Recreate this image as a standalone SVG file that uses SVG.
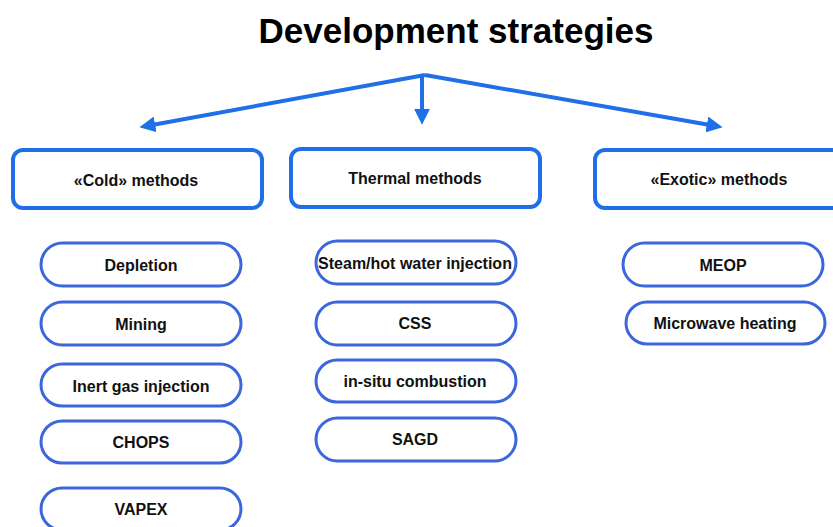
<svg xmlns="http://www.w3.org/2000/svg" width="833" height="527" viewBox="0 0 833 527">
  <style>
    .title { font-family: "Liberation Sans", Arial, sans-serif; font-weight: bold; font-size: 35px; fill: #000; text-anchor: middle; }
    .head rect { fill: #fff; stroke: #1f6fe8; stroke-width: 4; }
    .head text { font-family: "Liberation Sans", Arial, sans-serif; font-weight: bold; font-size: 16px; fill: #111; text-anchor: middle; dominant-baseline: central; }
    .pill rect { fill: #fff; stroke: #3b66dc; stroke-width: 3; }
    .pill text { font-family: "Liberation Sans", Arial, sans-serif; font-weight: bold; font-size: 16px; fill: #111; text-anchor: middle; dominant-baseline: central; }
    .conn line { stroke: #1f6fe8; stroke-width: 4; }
  </style>
  <defs>
    <marker id="arrow" viewBox="0 0 10 10" refX="2" refY="5" markerWidth="4" markerHeight="4" orient="auto" markerUnits="strokeWidth">
      <path d="M0,0 L10,5 L0,10 Z" fill="#1f6fe8"/>
    </marker>
  </defs>
  <rect width="833" height="527" fill="#fff"/>

  <text class="title" x="456" y="43">Development strategies</text>

  <g id="connectors" class="conn">
    <line x1="425" y1="75" x2="152" y2="125" marker-end="url(#arrow)"/>
    <line x1="422" y1="75" x2="422" y2="112" marker-end="url(#arrow)"/>
    <line x1="425" y1="75" x2="710" y2="125" marker-end="url(#arrow)"/>
  </g>

  <g id="cold-methods" class="head">
    <rect x="13" y="150" width="249" height="58" rx="10"/>
    <text x="136" y="180">«Cold» methods</text>
  </g>
  <g id="thermal-methods" class="head">
    <rect x="291" y="149" width="249" height="58" rx="10"/>
    <text x="415" y="178">Thermal methods</text>
  </g>
  <g id="exotic-methods" class="head">
    <rect x="595" y="150" width="250" height="58" rx="10"/>
    <text x="719" y="179">«Exotic» methods</text>
  </g>

  <g id="depletion" class="pill">
    <rect x="41" y="243" width="200" height="43" rx="21.5"/>
    <text x="141" y="265">Depletion</text>
  </g>
  <g id="mining" class="pill">
    <rect x="41" y="302" width="200" height="43" rx="21.5"/>
    <text x="141" y="324">Mining</text>
  </g>
  <g id="inert-gas" class="pill">
    <rect x="41" y="364" width="200" height="42" rx="21"/>
    <text x="141" y="386">Inert gas injection</text>
  </g>
  <g id="chops" class="pill">
    <rect x="41" y="421" width="200" height="42" rx="21"/>
    <text x="141" y="442">CHOPS</text>
  </g>
  <g id="vapex" class="pill">
    <rect x="41" y="488" width="200" height="42" rx="21"/>
    <text x="141" y="509">VAPEX</text>
  </g>

  <g id="steam" class="pill">
    <rect x="316" y="241" width="200" height="43" rx="21.5"/>
    <text x="415" y="263">Steam/hot water injection</text>
  </g>
  <g id="css" class="pill">
    <rect x="316" y="302" width="200" height="43" rx="21.5"/>
    <text x="415" y="323">CSS</text>
  </g>
  <g id="in-situ" class="pill">
    <rect x="316" y="360" width="200" height="42" rx="21"/>
    <text x="415" y="381">in-situ combustion</text>
  </g>
  <g id="sagd" class="pill">
    <rect x="316" y="418" width="200" height="43" rx="21.5"/>
    <text x="415" y="439">SAGD</text>
  </g>

  <g id="meop" class="pill">
    <rect x="623" y="243" width="200" height="43" rx="21.5"/>
    <text x="723" y="265">MEOP</text>
  </g>
  <g id="microwave" class="pill">
    <rect x="626" y="302" width="199" height="42" rx="21"/>
    <text x="725" y="323">Microwave heating</text>
  </g>
</svg>
